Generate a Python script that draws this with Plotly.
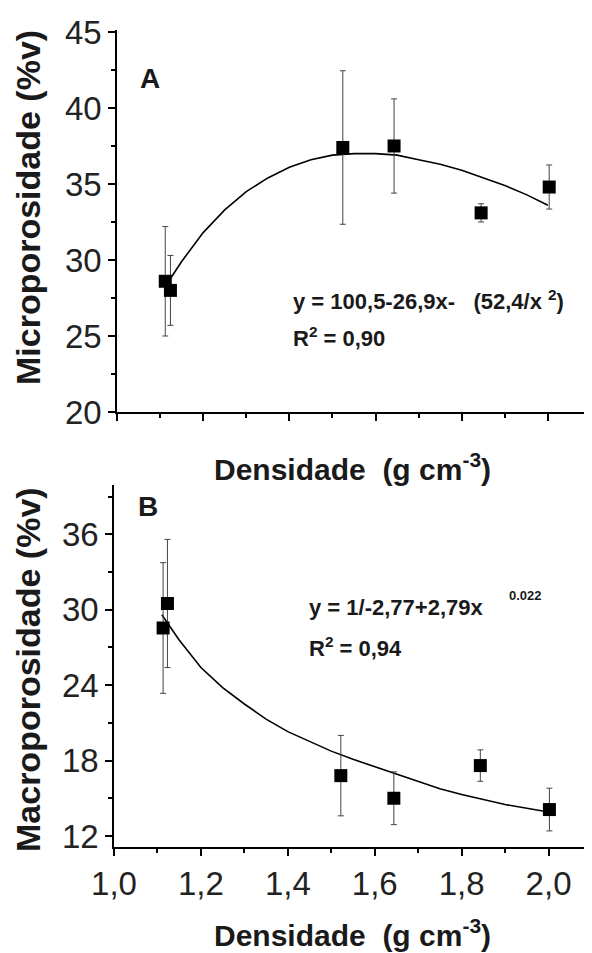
import plotly.graph_objects as go

# a página tem margem de 8 px no body: a figura começa em (8, 8)
OFF = 8
W, H = 592 - OFF, 953 - OFF

# Painel A - microporosidade
dens_a = [1.112, 1.124, 1.524, 1.643, 1.845, 2.003]
micro = [28.6, 28.0, 37.4, 37.5, 33.1, 34.8]
micro_err = [3.6, 2.3, 5.05, 3.1, 0.6, 1.45]
curva_a_x = [1.12, 1.15, 1.20, 1.25, 1.30, 1.35, 1.40, 1.45, 1.50, 1.55, 1.60,
             1.65, 1.70, 1.75, 1.80, 1.85, 1.90, 1.95, 2.00]
curva_a_y = [28.6, 29.9, 31.8, 33.3, 34.5, 35.4, 36.1, 36.6, 36.9, 37.0, 37.0,
             36.9, 36.6, 36.3, 35.9, 35.4, 34.9, 34.3, 33.6]

# Painel B - macroporosidade
dens_b = [1.113, 1.123, 1.522, 1.644, 1.843, 2.002]
macro = [28.55, 30.5, 16.8, 15.0, 17.6, 14.1]
macro_err = [5.2, 5.1, 3.2, 2.1, 1.25, 1.7]
curva_b_x = [1.11, 1.15, 1.20, 1.25, 1.30, 1.35, 1.40, 1.45, 1.50, 1.55, 1.60,
             1.65, 1.70, 1.75, 1.80, 1.85, 1.90, 1.95, 2.00]
curva_b_y = [29.6, 27.6, 25.4, 23.8, 22.5, 21.3, 20.3, 19.5, 18.75, 18.1, 17.5,
             16.95, 16.35, 15.75, 15.3, 14.9, 14.5, 14.2, 13.9]

x_ticks = [1.0, 1.2, 1.4, 1.6, 1.8, 2.0]
x_labels = ["1,0", "1,2", "1,4", "1,6", "1,8", "2,0"]
ya_ticks = [20, 25, 30, 35, 40, 45]
yb_ticks = [12, 18, 24, 30, 36]


def px(x):
    return (x - OFF) / W


def py(y):
    return 1 - (y - OFF) / H


fig = go.Figure()

for xs, ys, errs, cx, cy, xa, ya in [
    (dens_a, micro, micro_err, curva_a_x, curva_a_y, "x", "y"),
    (dens_b, macro, macro_err, curva_b_x, curva_b_y, "x2", "y2"),
]:
    fig.add_trace(go.Scatter(x=cx, y=cy, mode="lines", xaxis=xa, yaxis=ya,
                             line=dict(color="black", width=1.6), showlegend=False))
    fig.add_trace(go.Scatter(x=xs, y=ys, mode="markers", xaxis=xa, yaxis=ya,
                             marker=dict(symbol="square", size=13, color="black"),
                             error_y=dict(type="data", array=errs, color="#444",
                                          thickness=1, width=3),
                             showlegend=False))

eixo = dict(showline=True, linecolor="black", linewidth=1.5, ticks="outside",
            tickcolor="black", tickwidth=1.5, ticklen=7, showgrid=False, zeroline=False,
            tickfont=dict(family="Arial", size=33, color="#222"))

fig.update_layout(
    width=W, height=H,
    margin=dict(l=0, r=0, t=0, b=0, autoexpand=False),
    paper_bgcolor="white", plot_bgcolor="white",
    xaxis=dict(eixo, domain=[px(117), px(591)], range=[1.0, 2.1], anchor="y",
               tickvals=x_ticks, showticklabels=False,
               minor=dict(dtick=0.1, tick0=1.0, ticks="outside", ticklen=4, tickcolor="black")),
    yaxis=dict(eixo, domain=[py(412), py(30)], range=[20, 45.13], anchor="x",
               tickvals=ya_ticks,
               minor=dict(dtick=2.5, tick0=20, ticks="outside", ticklen=4, tickcolor="black")),
    xaxis2=dict(eixo, domain=[px(114), px(592)], range=[1.0, 2.1], anchor="y2",
                tickvals=x_ticks, ticktext=x_labels,
                minor=dict(dtick=0.1, tick0=1.0, ticks="outside", ticklen=4, tickcolor="black")),
    yaxis2=dict(eixo, domain=[py(847), py(485)], range=[11.12, 39.93], anchor="x2",
                tickvals=yb_ticks,
                minor=dict(dtick=3, tick0=12, ticks="outside", ticklen=4, tickcolor="black")),
)

negrito = dict(family="Arial", color="#1a1a1a", weight="bold")


def texto(x, y, t, size, xanchor="left", angle=0):
    fig.add_annotation(x=px(x), y=py(y), xref="paper", yref="paper", text=t,
                       showarrow=False, xanchor=xanchor, yanchor="middle",
                       textangle=angle, font=dict(negrito, size=size))


texto(150, 78, "A", 28, "center")
texto(148, 506, "B", 28, "center")
texto(28, 208, "Microporosidade (%v)", 34, "center", -90)
texto(28, 670, "Macroporosidade (%v)", 34, "center", -90)
texto(352, 467, "Densidade\u00a0 (g cm<sup>-3</sup>)", 30, "center")
texto(352, 933, "Densidade\u00a0 (g cm<sup>-3</sup>)", 30, "center")
texto(291, 300, "y = 100,5-26,9x-\u00a0\u00a0 (52,4/x <sup>2</sup>)", 22)
texto(291, 337, "R<sup>2</sup> = 0,90", 22)
texto(307, 607, "y = 1/-2,77+2,79x", 22)
texto(507, 595, "0.022", 13)
texto(307, 647, "R<sup>2</sup> = 0,94", 22)

fig.write_html("out.html")
